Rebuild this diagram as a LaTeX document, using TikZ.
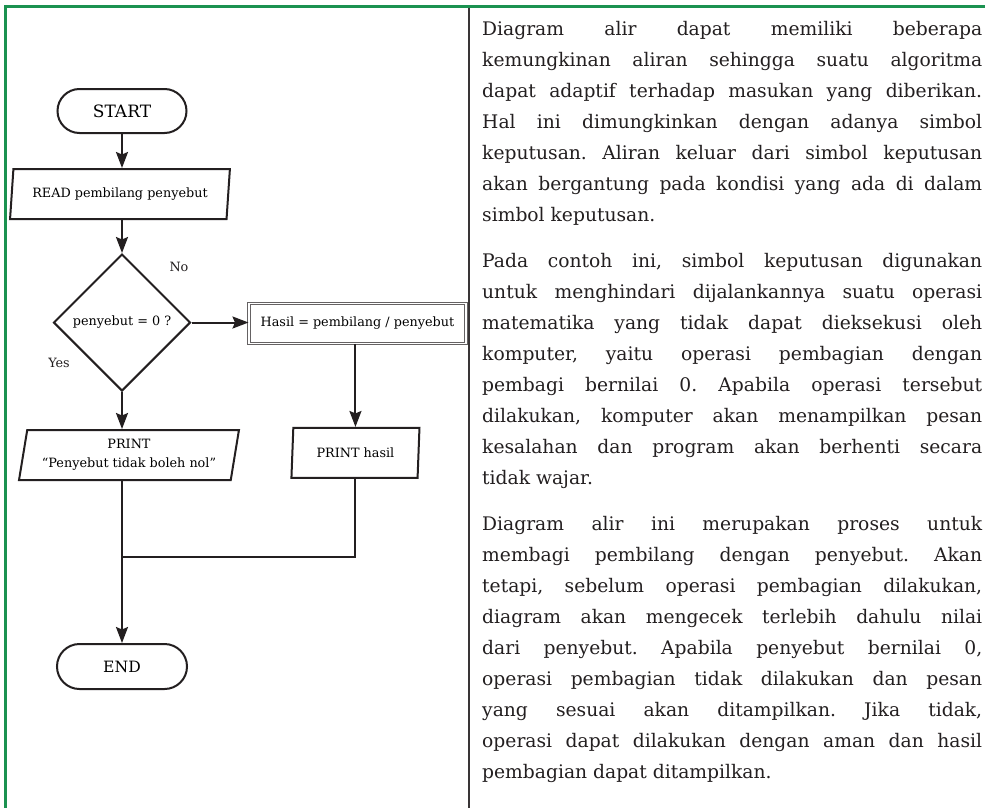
\documentclass[tikz,border=0pt]{standalone}
\usepackage{fontspec}
\setmainfont{DejaVu Serif}
\usetikzlibrary{positioning,arrows.meta,shapes.geometric,shapes.misc}
\definecolor{framegreen}{RGB}{27,146,80}
\definecolor{ink}{RGB}{35,31,32}

\begin{document}
\begin{tikzpicture}[
  x=1pt, y=-1pt,
  term/.style={draw=ink, line width=2pt, rounded rectangle, minimum width=129pt,
               minimum height=44pt, inner sep=0pt},
  io/.style={draw=ink, line width=2pt, trapezium, trapezium stretches=true,
             minimum height=50pt, inner sep=0pt, align=center,
             font=\fontsize{12.8}{19}\selectfont},
  decide/.style={draw=ink, line width=2pt, diamond, minimum width=137pt,
                 minimum height=137pt, inner sep=0pt,
                 font=\fontsize{12.8}{15}\selectfont},
  proc/.style={draw=ink!70, line width=0.9pt, double, double distance=1.8pt,
               minimum width=217pt, minimum height=40pt, inner sep=0pt,
               font=\fontsize{12.8}{15}\selectfont},
  flow/.style={draw=ink, line width=2pt},
  arr/.style={flow, -{Stealth[length=16pt, width=12pt, inset=2.5pt]}},
  lbl/.style={text=ink, font=\fontsize{12.8}{15}\selectfont},
  body/.style={anchor=north west, inner sep=0pt, text width=500pt,
               align=justify, text=ink, font=\fontsize{18.7}{31}\selectfont}
]
  \fill[white] (0,0) rectangle (985,808);
  \useasboundingbox (0,0) rectangle (985,808);

  % frame
  \draw[framegreen, line width=3pt] (4,6.5) -- (985,6.5);
  \draw[framegreen, line width=3pt] (5.5,5) -- (5.5,808);
  \draw[ink!90, line width=2pt] (468.5,8) -- (468.5,808);

  % flowchart
  \node[term, font=\fontsize{17}{20}\selectfont] (start) at (122,111) {START};
  \node[io, below=34pt of start, xshift=-2pt, minimum width=220pt,
        trapezium left angle=77.6, trapezium right angle=102.4] (read)
    {READ pembilang penyebut};
  \node[decide, below=33pt of read, xshift=2pt] (dec) {penyebut = 0 ?};
  \node[proc, right=57pt of dec, yshift=-1pt] (hasil)
    {Hasil = pembilang / penyebut};
  \node[io, below=37pt of dec, xshift=7pt, minimum width=220pt,
        trapezium left angle=77.3, trapezium right angle=102.7] (pnol)
    {PRINT\\“Penyebut tidak boleh nol”};
  \node[io, below=83pt of hasil, xshift=-2pt, minimum width=129pt,
        trapezium left angle=83.2, trapezium right angle=96.8] (phasil)
    {PRINT hasil};
  \node[term, below=251pt of dec, minimum width=130pt, minimum height=45pt,
        font=\fontsize{15.6}{18}\selectfont] (end) {END};

  \node[lbl] (no) at (179,267) {No};
  \node[lbl] (yes) at (59,363) {Yes};

  \path (dec.south) ++(0,165) coordinate (join);

  \draw[arr] (start) -- (start.south |- read.north);
  \draw[arr] (read.south -| dec.north) -- (dec.north);
  \draw[arr] (dec.east) -- (dec.east -| hasil.west);
  \draw[arr] (dec.south) -- (dec.south |- pnol.north);
  \draw[arr] (hasil.south -| phasil.north) -- (phasil.north);
  \draw[flow] (pnol.south -| join) -- (join) -| (phasil.south);
  \draw[arr] (join) -- (end.north);

  % text column
  \node[body] (desc) at (482,21) {\parindent=0pt\parskip=15pt
    \hyphenpenalty=10000\tolerance=10000\frenchspacing
    Diagram alir dapat memiliki beberapa\linebreak
    kemungkinan aliran sehingga suatu algoritma\linebreak
    dapat adaptif terhadap masukan yang diberikan.\linebreak
    Hal ini dimungkinkan dengan adanya simbol\linebreak
    keputusan. Aliran keluar dari simbol keputusan\linebreak
    akan bergantung pada kondisi yang ada di dalam\linebreak
    simbol keputusan.\par
    Pada contoh ini, simbol keputusan digunakan\linebreak
    untuk menghindari dijalankannya suatu operasi\linebreak
    matematika yang tidak dapat dieksekusi oleh\linebreak
    komputer, yaitu operasi pembagian dengan\linebreak
    pembagi bernilai 0. Apabila operasi tersebut\linebreak
    dilakukan, komputer akan menampilkan pesan\linebreak
    kesalahan dan program akan berhenti secara\linebreak
    tidak wajar.\par
    Diagram alir ini merupakan proses untuk\linebreak
    membagi pembilang dengan penyebut. Akan\linebreak
    tetapi, sebelum operasi pembagian dilakukan,\linebreak
    diagram akan mengecek terlebih dahulu nilai\linebreak
    dari penyebut. Apabila penyebut bernilai 0,\linebreak
    operasi pembagian tidak dilakukan dan pesan\linebreak
    yang sesuai akan ditampilkan. Jika tidak,\linebreak
    operasi dapat dilakukan dengan aman dan hasil\linebreak
    pembagian dapat ditampilkan.};
\end{tikzpicture}
\end{document}
